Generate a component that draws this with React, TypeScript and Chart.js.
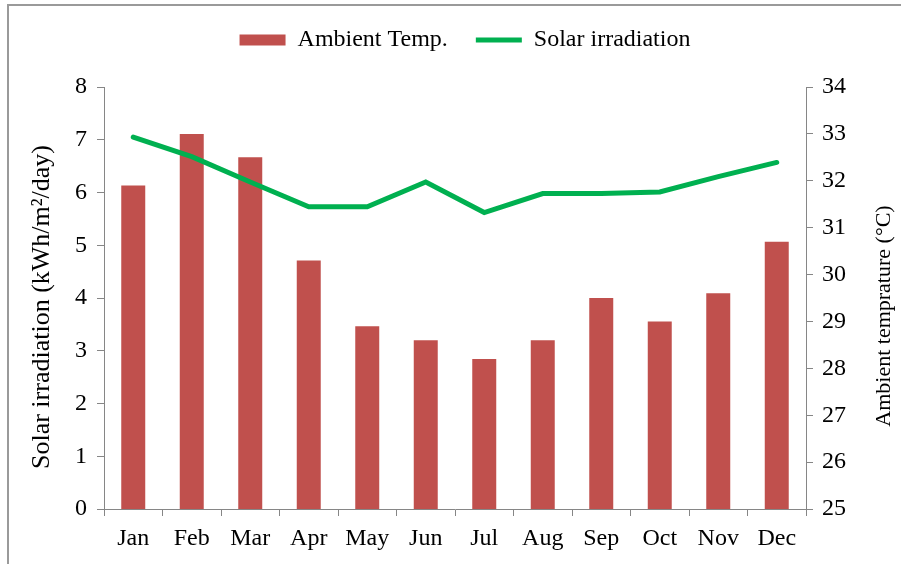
import React, { useEffect, useRef } from "react";
import { Chart, registerables } from "chart.js";

Chart.register(...registerables);

const MONTHS = ["Jan", "Feb", "Mar", "Apr", "May", "Jun", "Jul", "Aug", "Sep", "Oct", "Nov", "Dec"];
const AMBIENT_TEMP = [31.9, 33.0, 32.5, 30.3, 28.9, 28.6, 28.2, 28.6, 29.5, 29.0, 29.6, 30.7];
const SOLAR_IRRADIATION = [7.05, 6.68, 6.2, 5.73, 5.73, 6.2, 5.62, 5.98, 5.98, 6.01, 6.3, 6.57];

const BAR_LABEL = "Ambient Temp.";
const LINE_LABEL = "Solar irradiation";
const LEFT_TITLE = "Solar irradiation (kWh/m²/day)";
const RIGHT_TITLE = "Ambient temprature (°C)";

const FONT = '"Liberation Serif", "Times New Roman", serif';
const AXIS_GRAY = "#868686";

const axisTitlesPlugin = {
  id: "axisTitles",
  afterDraw(chart: any) {
    const ctx = chart.ctx;
    const drawTitle = (text: string, x: number, y: number, size: number) => {
      ctx.save();
      ctx.translate(x, y);
      ctx.rotate(-Math.PI / 2);
      ctx.textAlign = "center";
      ctx.textBaseline = "middle";
      ctx.fillStyle = "#000";
      ctx.font = `${size}px ${FONT}`;
      ctx.fillText(text, 0, 0);
      ctx.restore();
    };
    const y = chart.scales.y;
    const y1 = chart.scales.y1;
    if (y) drawTitle(LEFT_TITLE, 42, (y.top + y.bottom) / 2 + 9, 26);
    if (y1) drawTitle(RIGHT_TITLE, 884, (y1.top + y1.bottom) / 2 + 18, 22);
  },
};

export default function App() {
  const ref = useRef<HTMLCanvasElement | null>(null);

  useEffect(() => {
    if (!ref.current) return;
    const tickFont = { family: FONT, size: 24 };
    const chart = new Chart(ref.current, {
      type: "bar",
      data: {
        labels: MONTHS,
        datasets: [
          {
            type: "bar",
            label: BAR_LABEL,
            data: AMBIENT_TEMP,
            backgroundColor: "#C0504D",
            borderWidth: 0,
            yAxisID: "y1",
            barPercentage: 0.41,
            categoryPercentage: 1,
            order: 1,
            pointStyle: "rect",
          } as any,
          {
            type: "line",
            label: LINE_LABEL,
            data: SOLAR_IRRADIATION,
            borderColor: "#00B050",
            backgroundColor: "#00B050",
            borderWidth: 5,
            borderCapStyle: "round",
            borderJoinStyle: "miter",
            pointRadius: 0,
            pointStyle: "line",
            tension: 0,
            yAxisID: "y",
            order: 0,
          } as any,
        ],
      },
      options: {
        responsive: false,
        animation: false,
        devicePixelRatio: 1,
        layout: { padding: { left: 29, right: 0, top: 0, bottom: 0 } },
        plugins: {
          tooltip: { enabled: false },
          title: {
            display: true,
            text: "",
            position: "top",
            weight: 500,
            font: { size: 10, lineHeight: 1 },
            padding: { top: 0, bottom: 15 },
          } as any,
          legend: {
            position: "top",
            labels: {
              font: tickFont,
              color: "#000",
              usePointStyle: true,
              pointStyleWidth: 46,
              boxHeight: 11,
              padding: 28,
              sort: (a: any, b: any) => a.datasetIndex - b.datasetIndex,
            },
          },
        },
        scales: {
          x: {
            offset: true,
            grid: {
              display: true,
              drawOnChartArea: false,
              drawTicks: true,
              tickLength: 7,
              color: AXIS_GRAY,
              offset: true,
            },
            border: { display: true, color: AXIS_GRAY, width: 1 },
            ticks: { font: tickFont, color: "#000", padding: 8, maxRotation: 0 },
            afterFit: (s: any) => {
              s.height = 55;
            },
          },
          y: {
            position: "left",
            min: 0,
            max: 8,
            ticks: { stepSize: 1, font: tickFont, color: "#000", padding: 10 },
            grid: {
              display: true,
              drawOnChartArea: false,
              drawTicks: true,
              tickLength: 7,
              color: AXIS_GRAY,
            },
            border: { display: true, color: AXIS_GRAY, width: 1 },
            afterFit: (s: any) => {
              s.width = 75;
            },
          },
          y1: {
            position: "right",
            min: 25,
            max: 34,
            ticks: { stepSize: 1, font: tickFont, color: "#000", padding: 9 },
            grid: {
              display: true,
              drawOnChartArea: false,
              drawTicks: true,
              tickLength: 7,
              color: AXIS_GRAY,
            },
            border: { display: true, color: AXIS_GRAY, width: 1 },
            afterFit: (s: any) => {
              s.width = 95;
            },
          },
        },
      } as any,
      plugins: [axisTitlesPlugin],
    });
    return () => chart.destroy();
  }, []);

  return (
    <div style={{ position: "absolute", left: 0, top: 0, width: 901, height: 564, background: "#fff", overflow: "hidden" }}>
      <div
        style={{
          position: "absolute",
          left: 7,
          top: 4,
          width: 894,
          height: 560,
          borderTop: "2px solid #9a9a9a",
          borderLeft: "2px solid #9a9a9a",
          boxSizing: "border-box",
        }}
      />
      <canvas ref={ref} width={901} height={564} style={{ position: "absolute", left: 0, top: 0, width: 901, height: 564 }} />
    </div>
  );
}
